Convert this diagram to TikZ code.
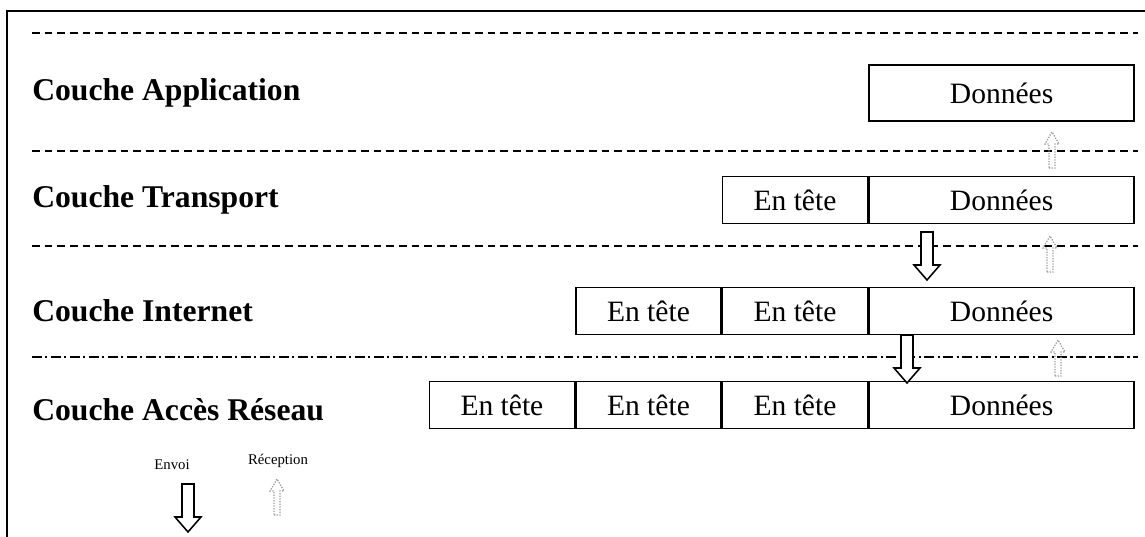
\documentclass[tikz,border=0pt]{standalone}
\usepackage{fontspec}
\setmainfont{Liberation Serif}
\usetikzlibrary{positioning}

\begin{document}
\begin{tikzpicture}[
  x=0.025cm, y=-0.025cm,
  layer/.style = {anchor=west, inner sep=0pt, font=\fontsize{22.5}{26}\selectfont\bfseries},
  cell/.style = {draw, line width=1.2pt, inner sep=0pt, minimum width=103pt, minimum height=33.5pt, font=\fontsize{21}{25}\selectfont},
  data/.style = {cell, minimum width=188.5pt},
  sep/.style = {line width=1pt, dash pattern=on 5.5pt off 3.5pt},
  sepdot/.style = {line width=1pt, dash pattern=on 7pt off 2.5pt on 1.5pt off 2.5pt},
  legend/.style = {inner sep=0pt, font=\fontsize{10.5}{12}\selectfont},
  envoi/.pic = {\draw[line width=1.1pt, fill=white] (-6,0) -- (6,0) -- (6,33) -- (13,33) -- (0,48) -- (-13,33) -- (-6,33) -- cycle;},
  recep/.pic = {\draw[gray!80, densely dotted, line width=.9pt] (-3,36) -- (3,36) -- (3,12) -- (7,12) -- (0,0) -- (-7,12) -- (-3,12) -- cycle;}
  ]
  \useasboundingbox (0,0) rectangle (1145,537);

  % frame and separators
  \draw[line width=1.3pt] (7,537) -- (7,11) -- (1145,11);
  \draw[sep] (32,33) -- (1138,33);
  \draw[sep] (32,151) -- (1138,151);
  \draw[sep] (32,246) -- (1138,246);
  \draw[sepdot] (32,357) -- (1138,357);

  % application
  \node[layer] (app) at (32,93) {Couche Application};
  \node[data, minimum height=40pt, anchor=east] (appData) at (1135,93) {Données};

  % transport
  \node[layer] (transport) at (32,200) {Couche Transport};
  \node[data, anchor=east] (trData) at (1135,200) {Données};
  \node[cell, left=0pt of trData] (trHead) {En tête};

  % internet
  \node[layer] (internet) at (32,311) {Couche Internet};
  \node[data, anchor=east] (inData) at (1135,311) {Données};
  \node[cell, left=0pt of inData] (inHeadA) {En tête};
  \node[cell, left=0pt of inHeadA] (inHeadB) {En tête};

  % acces reseau
  \node[layer] (access) at (32,410) {Couche Accès Réseau};
  \node[data, anchor=east] (acData) at (1135,405) {Données};
  \node[cell, left=0pt of acData] (acHeadA) {En tête};
  \node[cell, left=0pt of acHeadA] (acHeadB) {En tête};
  \node[cell, left=0pt of acHeadB] (acHeadC) {En tête};

  % envoi / reception
  \pic at (927,232) {envoi};
  \pic at (907,335) {envoi};
  \pic at (1052,132) {recep};
  \pic at (1050,236) {recep};
  \pic at (1058,340) {recep};

  \node[legend] (envoi) at (172,465) {Envoi};
  \node[legend] (reception) at (278,461) {Réception};
  \pic at (188,484) {envoi};
  \pic at (277,479) {recep};

\end{tikzpicture}
\end{document}
